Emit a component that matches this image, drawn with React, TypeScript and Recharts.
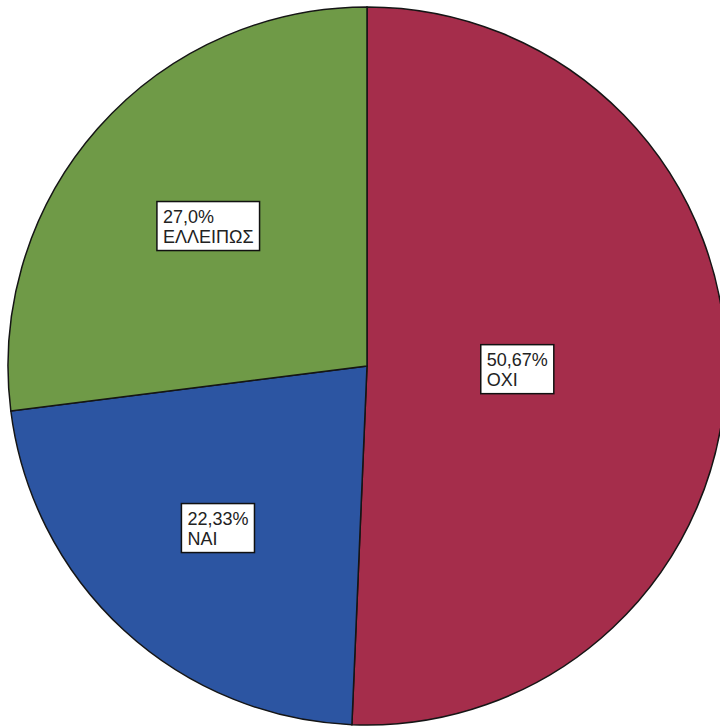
import { PieChart, Pie, Cell } from "recharts";

const categories = ["ΟΧΙ", "ΝΑΙ", "ΕΛΛΕΙΠΩΣ"];
const shares = [50.67, 22.33, 27.0];
const shareLabels = ["50,67%", "22,33%", "27,0%"];
const colors = ["#A52D4B", "#2C55A2", "#6F9A47"];

const data = categories.map((name, i) => ({ name, value: shares[i], text: shareLabels[i] }));

const FONT = "18px 'Liberation Sans', Arial, sans-serif";
const RAD = Math.PI / 180;

let ctx: CanvasRenderingContext2D | null = null;
function textWidth(s: string) {
  if (!ctx) ctx = document.createElement("canvas").getContext("2d");
  if (!ctx) return s.length * 10;
  ctx.font = FONT;
  return ctx.measureText(s).width;
}

// label box sits on the centroid of each sector
function SliceLabel(props: any) {
  const { cx, cy, outerRadius, midAngle, percent, index } = props;
  const half = percent * Math.PI;
  const d = (2 * outerRadius * Math.sin(half)) / (3 * half);
  const x = cx + d * Math.cos(-midAngle * RAD);
  const y = cy + d * Math.sin(-midAngle * RAD);
  const line1 = data[index].text;
  const line2 = data[index].name;
  const w = Math.max(textWidth(line1), textWidth(line2)) + 12;
  const h = 49;
  const left = x - w / 2;
  return (
    <g>
      <rect x={left} y={y - h / 2} width={w} height={h} fill="#fff" stroke="#111" strokeWidth={1.5} />
      <text x={left + 6} y={y - 3} fontSize={18} fontFamily="'Liberation Sans', Arial, sans-serif" fill="#222">
        {line1}
      </text>
      <text x={left + 6} y={y + 17} fontSize={18} fontFamily="'Liberation Sans', Arial, sans-serif" fill="#222">
        {line2}
      </text>
    </g>
  );
}

export default function App() {
  return (
    <div style={{ position: "absolute", left: 0, top: 0, width: 720, height: 728, background: "#fff" }}>
      <PieChart width={720} height={728} margin={{ top: 0, right: 0, bottom: 0, left: 0 }}>
        <Pie
          data={data}
          dataKey="value"
          nameKey="name"
          cx={367}
          cy={366}
          outerRadius={359}
          startAngle={90}
          endAngle={-270}
          stroke="#151515"
          strokeWidth={1.5}
          label={SliceLabel}
          labelLine={false}
          isAnimationActive={false}
        >
          {data.map((entry, i) => (
            <Cell key={entry.name} fill={colors[i]} />
          ))}
        </Pie>
      </PieChart>
    </div>
  );
}
